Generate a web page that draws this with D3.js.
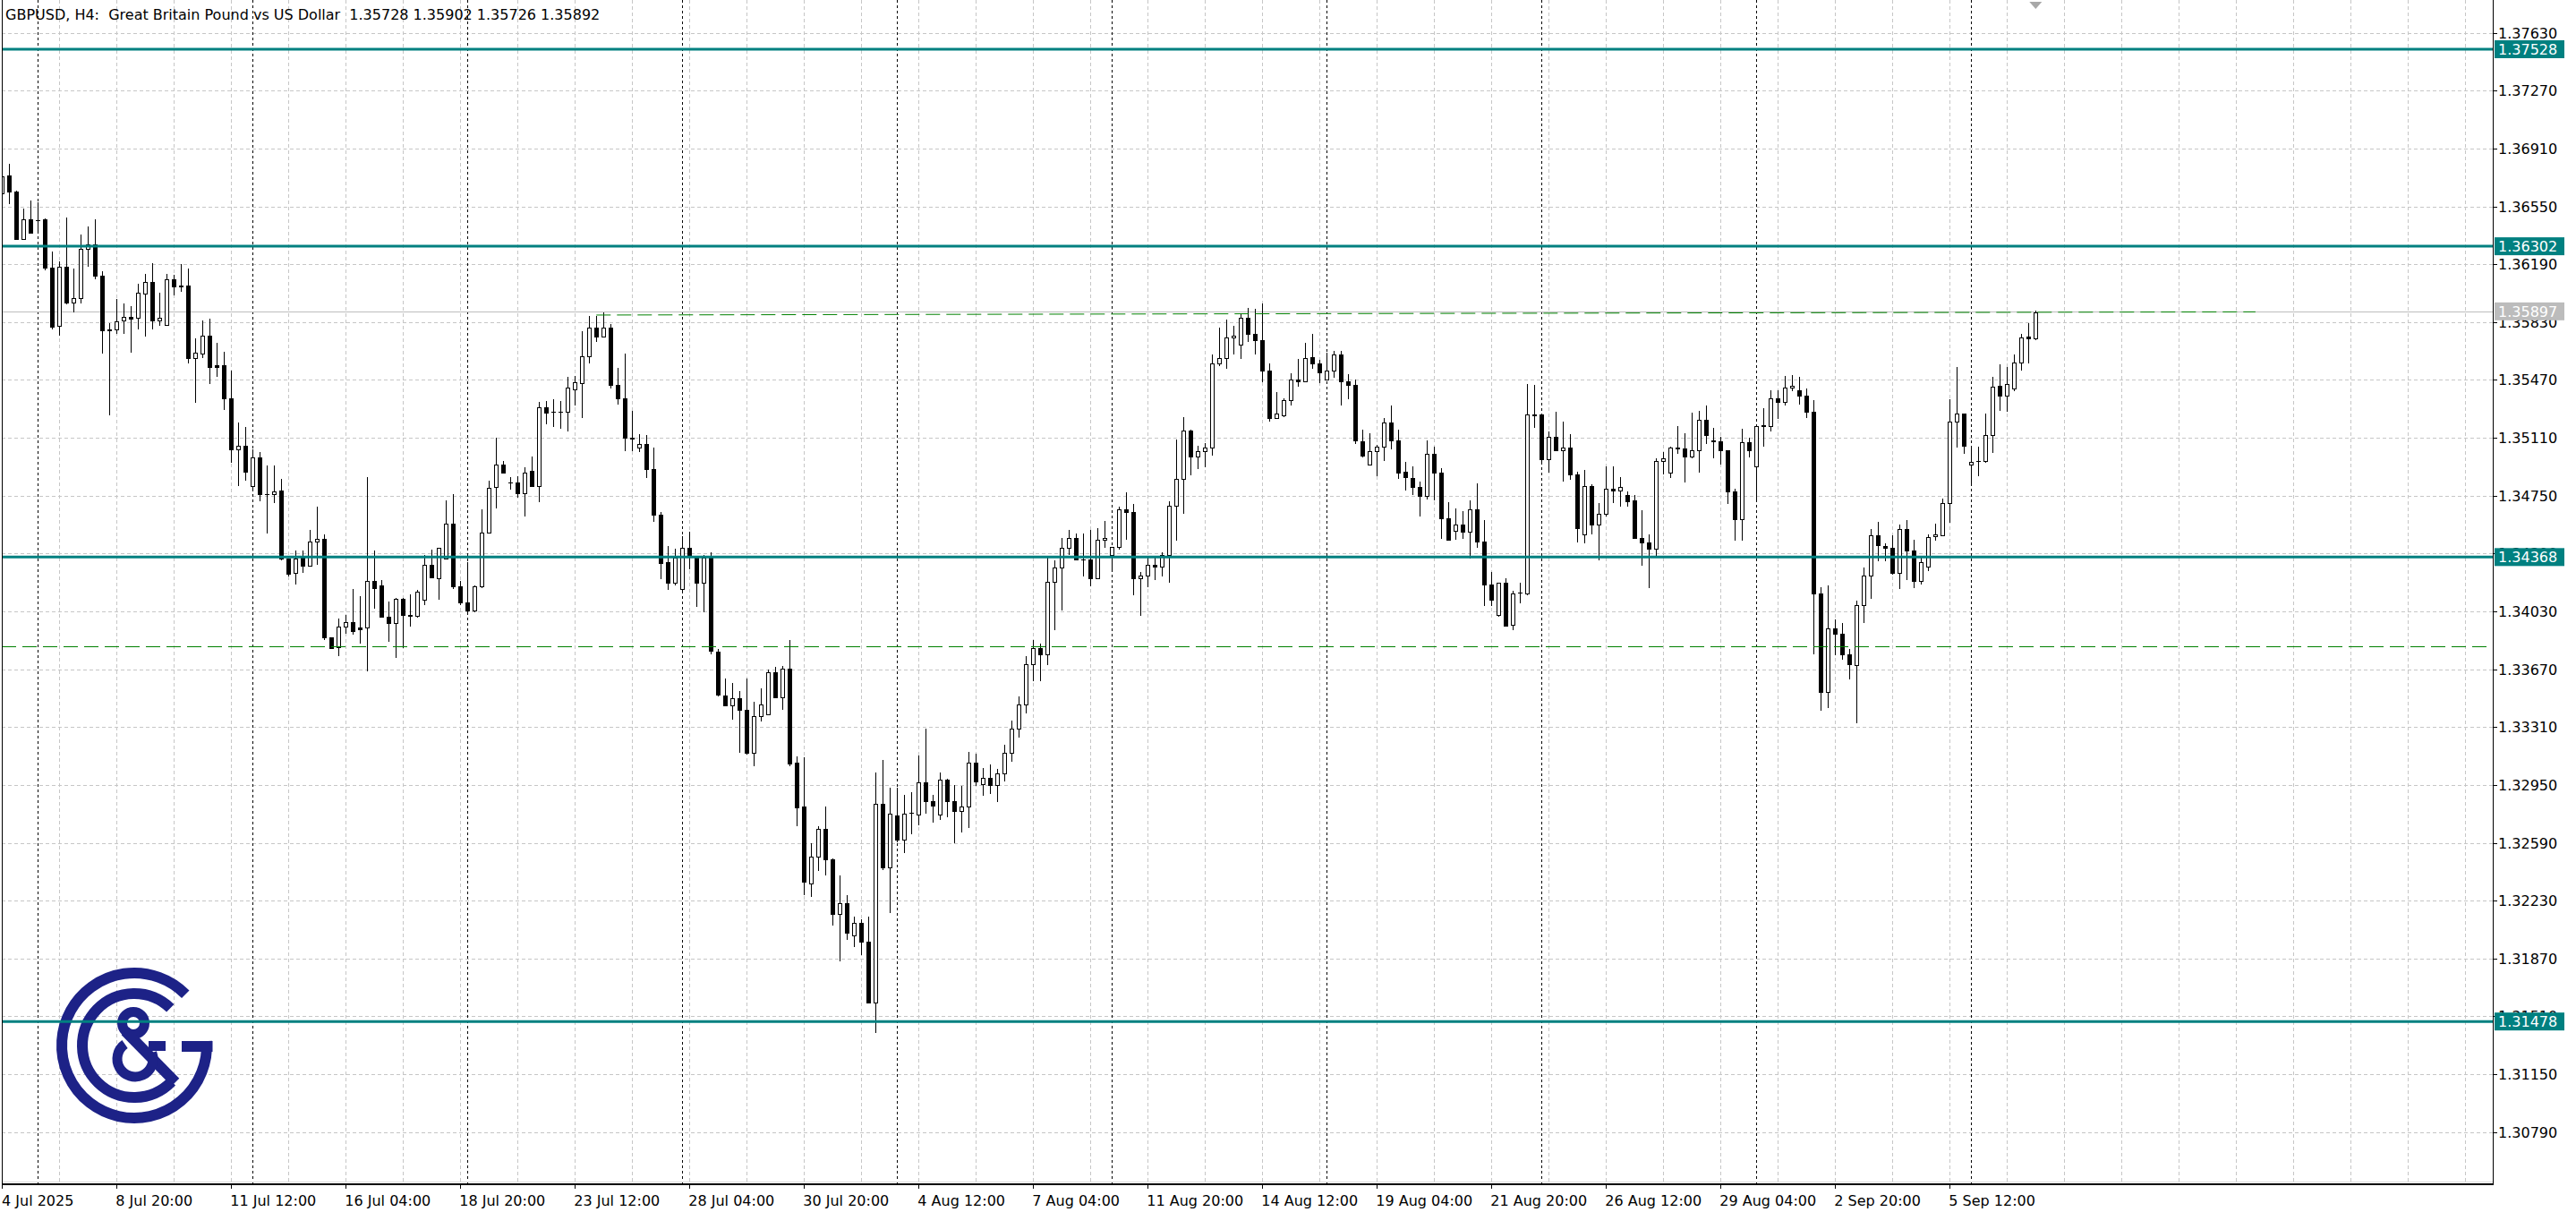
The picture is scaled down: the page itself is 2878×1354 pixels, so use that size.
<!DOCTYPE html>
<html><head><meta charset="utf-8">
<script src="https://cdn.jsdelivr.net/npm/d3@7"></script>
<style>html,body{margin:0;padding:0;background:#fff;overflow:hidden}</style>
</head><body>
<svg id="chart" width="2878" height="1354"></svg>
<script>
// ---------- DATA ----------
const title = "GBPUSD, H4:  Great Britain Pound vs US Dollar  1.35728 1.35902 1.35726 1.35892";
const openP = [
1.36632,1.36742,1.36641,1.36347,1.36472,1.36464,1.36472,1.36170,1.35806,1.36175,
1.35951,1.35979,1.36287,1.36315,1.36119,1.35784,1.35784,1.35840,1.35862,1.35856,
1.36007,1.36080,1.35840,1.35815,1.36097,1.36056,1.36056,1.35606,1.35632,1.35744,
1.35560,1.35560,1.35353,1.35038,1.35062,1.34808,1.34990,1.34759,1.34757,1.34780,
1.34358,1.34270,1.34370,1.34316,1.34467,1.34483,1.33871,1.33806,1.33934,1.33964,
1.33929,1.33929,1.34219,1.34189,1.33996,1.33957,1.34107,1.34010,1.34005,1.34103,
1.34321,1.34235,1.34358,1.34576,1.34184,1.34084,1.34038,1.34184,1.34520,1.34803,
1.34945,1.34834,1.34834,1.34764,1.34903,1.34810,1.35298,1.35274,1.35274,1.35274,
1.35414,1.35453,1.35615,1.35796,1.35738,1.35796,1.35440,1.35355,1.35111,1.35050,
1.35072,1.34913,1.34630,1.34335,1.34207,1.34168,1.34427,1.34366,1.34207,1.34366,
1.33778,1.33508,1.33447,1.33492,1.33416,1.33148,1.33377,1.33392,1.33650,1.33498,
1.33675,1.33088,1.32814,1.32336,1.32503,1.32677,1.32488,1.32150,1.32214,1.32016,
1.32089,1.31977,1.31597,1.32835,1.32439,1.32759,1.32607,1.32777,1.32768,1.32966,
1.32850,1.32768,1.32981,1.32850,1.32789,1.32814,1.33088,1.32957,1.32996,1.32950,
1.33020,1.33150,1.33300,1.33450,1.33700,1.33800,1.33760,1.34214,1.34303,1.34424,
1.34485,1.34355,1.34355,1.34238,1.34476,1.34383,1.34429,1.34665,1.34647,1.34238,
1.34253,1.34318,1.34308,1.34383,1.34689,1.34856,1.35154,1.34994,1.35027,1.35050,
1.35572,1.35607,1.35737,1.35691,1.35858,1.35758,1.35719,1.35529,1.35232,1.35251,
1.35347,1.35473,1.35462,1.35613,1.35572,1.35470,1.35529,1.35626,1.35464,1.35442,
1.35089,1.34944,1.35027,1.35055,1.35204,1.35092,1.34897,1.34860,1.34804,1.34749,
1.35009,1.34894,1.34609,1.34531,1.34568,1.34526,1.34665,1.34466,1.34197,1.34009,
1.34206,1.33944,1.34145,1.34141,1.35256,1.35256,1.34977,1.35115,1.35033,1.35050,
1.34882,1.34511,1.34810,1.34568,1.34637,1.34795,1.34782,1.34754,1.34721,1.34489,
1.34461,1.34420,1.34968,1.34894,1.35050,1.35042,1.34994,1.35033,1.35222,1.35092,
1.35089,1.35033,1.34777,1.34604,1.35083,1.34931,1.35185,1.35185,1.35353,1.35334,
1.35423,1.35405,1.35371,1.35273,1.34141,1.33528,1.33927,1.33890,1.33760,1.33697,
1.34070,1.34251,1.34503,1.34437,1.34424,1.34271,1.34540,1.34410,1.34219,1.34308,
1.34498,1.34503,1.34706,1.35213,1.35260,1.34944,1.34968,1.34968,1.35126,1.35436,
1.35371,1.35418,1.35581,1.35739,1.35728];
const highP = [
1.36760,1.36817,1.36649,1.36537,1.36586,1.36576,1.36475,1.36267,1.36210,1.36481,
1.36166,1.36373,1.36423,1.36468,1.36147,1.35825,1.35976,1.35946,1.35927,1.36067,
1.36132,1.36199,1.36011,1.36129,1.36123,1.36192,1.36166,1.35728,1.35839,1.35853,
1.35700,1.35644,1.35526,1.35204,1.35176,1.35041,1.35023,1.34938,1.34938,1.34857,
1.34358,1.34409,1.34409,1.34537,1.34683,1.34509,1.33871,1.33987,1.34010,1.34172,
1.34126,1.34864,1.34411,1.34226,1.34091,1.34114,1.34114,1.34138,1.34161,1.34381,
1.34416,1.34428,1.34722,1.34759,1.34219,1.34335,1.34189,1.34664,1.34845,1.35112,
1.34966,1.34868,1.34873,1.34926,1.34996,1.35332,1.35337,1.35349,1.35337,1.35490,
1.35495,1.35773,1.35866,1.35866,1.35889,1.35820,1.35543,1.35635,1.35279,1.35133,
1.35127,1.35050,1.34646,1.34436,1.34420,1.34497,1.34524,1.34370,1.34381,1.34396,
1.33797,1.33614,1.33584,1.33535,1.33614,1.33468,1.33553,1.33666,1.33687,1.33690,
1.33854,1.33127,1.33124,1.32586,1.32692,1.32814,1.32494,1.32388,1.32266,1.32129,
1.32114,1.32129,1.33027,1.33103,1.32935,1.32935,1.32890,1.32905,1.33133,1.33301,
1.32890,1.33027,1.32987,1.32951,1.32945,1.33158,1.33142,1.33057,1.33080,1.33050,
1.33200,1.33350,1.33500,1.33750,1.33850,1.33830,1.34368,1.34350,1.34489,1.34539,
1.34517,1.34517,1.34539,1.34548,1.34594,1.34433,1.34680,1.34773,1.34698,1.34275,
1.34364,1.34364,1.34396,1.34717,1.35098,1.35237,1.35161,1.35061,1.35079,1.35627,
1.35798,1.35845,1.35808,1.35882,1.35919,1.35915,1.35947,1.35572,1.35395,1.35358,
1.35514,1.35603,1.35700,1.35756,1.35594,1.35640,1.35653,1.35650,1.35505,1.35473,
1.35161,1.35139,1.35068,1.35232,1.35312,1.35161,1.34959,1.34931,1.34836,1.35092,
1.35055,1.34921,1.34711,1.34671,1.34656,1.34721,1.34827,1.34596,1.34275,1.34206,
1.34238,1.34158,1.34206,1.35445,1.35440,1.35256,1.35148,1.35273,1.35213,1.35135,
1.34901,1.34912,1.34823,1.34702,1.34934,1.34934,1.34864,1.34777,1.34754,1.34661,
1.34507,1.34981,1.35024,1.35055,1.35185,1.35139,1.35269,1.35278,1.35312,1.35170,
1.35115,1.35033,1.34795,1.35167,1.35111,1.35195,1.35293,1.35408,1.35408,1.35497,
1.35501,1.35492,1.35418,1.35343,1.34182,1.34191,1.33978,1.33959,1.33796,1.34095,
1.34303,1.34540,1.34587,1.34451,1.34503,1.34572,1.34600,1.34476,1.34368,1.34511,
1.34578,1.34730,1.35352,1.35553,1.35260,1.35046,1.35055,1.35260,1.35492,1.35566,
1.35553,1.35626,1.35756,1.35826,1.35902];
const lowP = [
1.36620,1.36571,1.36347,1.36345,1.36386,1.36397,1.36160,1.35791,1.35754,1.35944,
1.35894,1.35950,1.36179,1.36101,1.35638,1.35256,1.35765,1.35765,1.35647,1.35793,
1.35744,1.35793,1.35812,1.35810,1.36002,1.36024,1.35577,1.35336,1.35614,1.35452,
1.35493,1.35289,1.34963,1.34814,1.34851,1.34799,1.34720,1.34520,1.34710,1.34355,
1.34254,1.34200,1.34277,1.34312,1.34323,1.33859,1.33801,1.33755,1.33894,1.33889,
1.33836,1.33662,1.34052,1.33994,1.33848,1.33748,1.33806,1.33940,1.33998,1.34075,
1.34242,1.34110,1.34358,1.34177,1.34075,1.34028,1.34028,1.34180,1.34520,1.34676,
1.34892,1.34794,1.34741,1.34625,1.34810,1.34713,1.35198,1.35182,1.35170,1.35158,
1.35316,1.35240,1.35576,1.35715,1.35738,1.35425,1.35324,1.35035,1.35035,1.35029,
1.34868,1.34594,1.34235,1.34168,1.34198,1.34162,1.34299,1.34061,1.34031,1.33766,
1.33505,1.33447,1.33361,1.33155,1.33142,1.33072,1.33352,1.33392,1.33498,1.33422,
1.33072,1.32698,1.32272,1.32257,1.32418,1.32394,1.32083,1.31855,1.31992,1.31947,
1.31895,1.31597,1.31414,1.32424,1.32160,1.32601,1.32531,1.32646,1.32707,1.32777,
1.32722,1.32738,1.32753,1.32595,1.32662,1.32690,1.32951,1.32890,1.32900,1.32850,
1.32980,1.33100,1.33250,1.33400,1.33600,1.33600,1.33700,1.33916,1.34043,1.34386,
1.34355,1.34253,1.34191,1.34236,1.34433,1.34290,1.34418,1.34483,1.34136,1.34009,
1.34188,1.34232,1.34253,1.34214,1.34476,1.34643,1.34884,1.34921,1.34931,1.35005,
1.35562,1.35544,1.35637,1.35607,1.35711,1.35637,1.35464,1.35217,1.35232,1.35245,
1.35315,1.35432,1.35462,1.35544,1.35455,1.35470,1.35492,1.35315,1.35356,1.35077,
1.34995,1.34944,1.34875,1.34972,1.35042,1.34860,1.34786,1.34758,1.34624,1.34730,
1.34726,1.34485,1.34476,1.34480,1.34489,1.34364,1.34433,1.34067,1.34067,1.34005,
1.33941,1.33918,1.34085,1.34136,1.35176,1.34959,1.34901,1.35033,1.34842,1.34856,
1.34466,1.34457,1.34513,1.34355,1.34624,1.34708,1.34689,1.34689,1.34485,1.34318,
1.34178,1.34383,1.34888,1.34866,1.35014,1.34838,1.34990,1.34897,1.35079,1.34990,
1.34949,1.34702,1.34474,1.34474,1.34996,1.34721,1.35061,1.35157,1.35232,1.35315,
1.35405,1.35325,1.35237,1.33770,1.33417,1.33435,1.33760,1.33736,1.33615,1.33342,
1.33963,1.34111,1.34349,1.34349,1.34266,1.34173,1.34228,1.34182,1.34200,1.34284,
1.34474,1.34503,1.34585,1.35055,1.35014,1.34828,1.34879,1.34959,1.35024,1.35284,
1.35278,1.35408,1.35533,1.35581,1.35726];
const closeP = [
1.36735,1.36640,1.36347,1.36472,1.36388,1.36462,1.36170,1.35802,1.36175,1.35950,
1.35979,1.36287,1.36315,1.36119,1.35778,1.35778,1.35834,1.35862,1.35851,1.36015,
1.36080,1.35838,1.35856,1.36097,1.36052,1.36050,1.35605,1.35638,1.35744,1.35549,
1.35549,1.35353,1.35038,1.35062,1.34898,1.34990,1.34758,1.34757,1.34776,1.34358,
1.34265,1.34358,1.34312,1.34467,1.34483,1.33871,1.33801,1.33934,1.33964,1.33906,
1.33917,1.34219,1.34177,1.33994,1.33957,1.34107,1.34010,1.34005,1.34154,1.34321,
1.34242,1.34428,1.34576,1.34184,1.34086,1.34033,1.34184,1.34520,1.34799,1.34945,
1.34896,1.34834,1.34764,1.34896,1.34810,1.35302,1.35267,1.35274,1.35272,1.35421,
1.35455,1.35615,1.35796,1.35738,1.35796,1.35437,1.35355,1.35111,1.35105,1.35072,
1.34913,1.34630,1.34329,1.34207,1.34366,1.34427,1.34375,1.34207,1.34366,1.33787,
1.33514,1.33447,1.33492,1.33416,1.33148,1.33377,1.33453,1.33650,1.33498,1.33675,
1.33082,1.32808,1.32348,1.32503,1.32677,1.32488,1.32150,1.32214,1.32032,1.32089,
1.31977,1.31597,1.32835,1.32439,1.32774,1.32607,1.32774,1.32777,1.32966,1.32850,
1.32823,1.32981,1.32850,1.32789,1.32814,1.33088,1.32972,1.32996,1.32950,1.33020,
1.33150,1.33300,1.33450,1.33700,1.33800,1.33760,1.34214,1.34303,1.34424,1.34485,
1.34355,1.34352,1.34238,1.34476,1.34485,1.34429,1.34665,1.34647,1.34238,1.34253,
1.34318,1.34308,1.34383,1.34689,1.34856,1.35154,1.34994,1.35027,1.35050,1.35572,
1.35607,1.35737,1.35748,1.35858,1.35758,1.35719,1.35529,1.35232,1.35260,1.35347,
1.35473,1.35462,1.35607,1.35572,1.35516,1.35529,1.35627,1.35460,1.35440,1.35092,
1.34999,1.35027,1.35055,1.35204,1.35092,1.34894,1.34866,1.34804,1.34749,1.35009,
1.34894,1.34609,1.34476,1.34568,1.34526,1.34665,1.34466,1.34197,1.34102,1.34206,
1.33941,1.34141,1.34145,1.35256,1.35250,1.34977,1.35115,1.35033,1.35050,1.34882,
1.34548,1.34810,1.34568,1.34637,1.34795,1.34782,1.34804,1.34715,1.34485,1.34457,
1.34420,1.34968,1.34981,1.35050,1.35042,1.34994,1.35033,1.35222,1.35130,1.35088,
1.35033,1.34777,1.34604,1.35083,1.35033,1.35185,1.35188,1.35356,1.35334,1.35423,
1.35432,1.35375,1.35274,1.34141,1.33528,1.33927,1.33890,1.33760,1.33699,1.34070,
1.34251,1.34503,1.34442,1.34424,1.34271,1.34540,1.34410,1.34219,1.34336,1.34492,
1.34511,1.34706,1.35213,1.35260,1.35061,1.34959,1.34968,1.35126,1.35427,1.35371,
1.35445,1.35581,1.35737,1.35730,1.35892];

const timeLabels = ["4 Jul 2025","8 Jul 20:00","11 Jul 12:00","16 Jul 04:00","18 Jul 20:00","23 Jul 12:00",
  "28 Jul 04:00","30 Jul 20:00","4 Aug 12:00","7 Aug 04:00","11 Aug 20:00","14 Aug 12:00",
  "19 Aug 04:00","21 Aug 20:00","26 Aug 12:00","29 Aug 04:00","2 Sep 20:00","5 Sep 12:00"];
const timeLabelBars = [0,16,32,48,64,80,96,112,128,144,160,176,192,208,224,240,256,272];
const weekStartBars = [5,35,65,95,125,155,185,215,245,275];
const priceTicks = [1.37630,1.37270,1.36910,1.36550,1.36190,1.35830,1.35470,1.35110,1.34750,1.34390,
  1.34030,1.33670,1.33310,1.32950,1.32590,1.32230,1.31870,1.31510,1.31150,1.30790];
const levelLines = [1.37528,1.36302,1.34368,1.31478];
const supportDash = 1.33812;
const resistTrend = {fromBar:83, fromPrice:1.35874, toBar:314.7, toPrice:1.35894};
const bidPrice = 1.35897;

// ---------- LAYOUT ----------
const W = 2878, H = 1354;
const plotL = 2, plotR = 2785, plotT = 0, plotB = 1322;
const svg = d3.select("#chart");
const x = d3.scaleLinear().domain([0, 1]).range([2.3, 10.3]);
const y = d3.scaleLinear().domain([1.3079, 1.3763]).range([1264.7, 36.7]);
const FONT = "'DejaVu Sans', Verdana, sans-serif";
const teal = "#008080";
const snap = v => Math.round(v) + 0.5;

svg.append("rect").attr("width", W).attr("height", H).attr("fill", "#fff");
svg.append("defs").append("clipPath").attr("id","plotclip")
  .append("rect").attr("x", plotL+1).attr("y", plotT).attr("width", plotR-plotL-1).attr("height", plotB-plotT);

const plot = svg.append("g").attr("clip-path","url(#plotclip)");

// grid
const grid = plot.append("g").attr("stroke","#c6c6c6").attr("stroke-width",1).attr("stroke-dasharray","4,3").attr("shape-rendering","crispEdges");
grid.selectAll("line.h").data(priceTicks).join("line")
  .attr("x1", plotL).attr("x2", plotR).attr("y1", d => snap(y(d))).attr("y2", d => snap(y(d)));
const vBars = d3.range(8, 360, 8).filter(i => x(i) < plotR);
grid.selectAll("line.v").data(vBars).join("line")
  .attr("x1", d => snap(x(d))).attr("x2", d => snap(x(d))).attr("y1", plotT).attr("y2", plotB);

// week separators
plot.append("g").attr("stroke","#000").attr("stroke-width",1).attr("stroke-dasharray","3,3").attr("shape-rendering","crispEdges")
  .selectAll("line").data(weekStartBars).join("line")
  .attr("x1", d => snap(x(d))).attr("x2", d => snap(x(d))).attr("y1", plotT).attr("y2", plotB);

// bid line
plot.append("line").attr("x1", plotL).attr("x2", plotR)
  .attr("y1", snap(y(bidPrice))).attr("y2", snap(y(bidPrice)))
  .attr("stroke","#bdbdbd").attr("stroke-width",1).attr("shape-rendering","crispEdges");

// logo
const logo = plot.append("g");
const LC = "#1d2287";
const lcx = 150, lcy = 1168;
function arcD(cx, cy, r, a0, a1, large, sweep) {
  const p0 = [cx + r*Math.cos(a0*Math.PI/180), cy + r*Math.sin(a0*Math.PI/180)];
  const p1 = [cx + r*Math.cos(a1*Math.PI/180), cy + r*Math.sin(a1*Math.PI/180)];
  return `M${p0[0]},${p0[1]} A${r},${r} 0 ${large} ${sweep} ${p1[0]},${p1[1]}`;
}
logo.append("path").attr("d", arcD(lcx, lcy, 81, -45, -3.5, 1, 0)).attr("fill","none").attr("stroke",LC).attr("stroke-width",12);
logo.append("rect").attr("x",203).attr("y",1163).attr("width",34.5).attr("height",12).attr("fill",LC);
logo.append("path").attr("d", arcD(lcx, lcy, 58, -46, 44, 1, 0)).attr("fill","none").attr("stroke",LC).attr("stroke-width",12);
// ampersand
logo.append("circle").attr("cx",149).attr("cy",1143).attr("r",12.5).attr("fill","none").attr("stroke",LC).attr("stroke-width",11);
logo.append("line").attr("x1",140).attr("y1",1152).attr("x2",196).attr("y2",1209).attr("stroke",LC).attr("stroke-width",12);
logo.append("path").attr("d", arcD(151, 1183, 20, -125, -20, 1, 0)).attr("fill","none").attr("stroke",LC).attr("stroke-width",11);
logo.append("rect").attr("x",166).attr("y",1163).attr("width",19).attr("height",11).attr("fill",LC);

// candles
const candles = plot.append("g").attr("shape-rendering","crispEdges");
d3.range(openP.length).forEach(i => {
  const o = openP[i], h = highP[i], l = lowP[i], c = closeP[i];
  const cx = snap(x(i));
  candles.append("line").attr("x1",cx).attr("x2",cx)
    .attr("y1", Math.round(y(h))).attr("y2", Math.round(y(l)) + 1)
    .attr("stroke","#000").attr("stroke-width",1);
  const yt = snap(y(Math.max(o,c))), yb = snap(y(Math.min(o,c)));
  if (yb - yt < 1) {
    candles.append("line").attr("x1", cx-2.5).attr("x2", cx+2.5).attr("y1", yt).attr("y2", yt)
      .attr("stroke","#000").attr("stroke-width",1);
  } else {
    candles.append("rect").attr("x", cx-2).attr("y", yt).attr("width", 4).attr("height", yb-yt)
      .attr("fill", c >= o ? "#fff" : "#000").attr("stroke","#000").attr("stroke-width",1);
  }
});

// horizontal levels
plot.append("g").selectAll("line").data(levelLines).join("line")
  .attr("x1", plotL).attr("x2", plotR).attr("y1", d => y(d)).attr("y2", d => y(d))
  .attr("stroke", teal).attr("stroke-width", 3);
plot.append("line").attr("x1", plotL).attr("x2", plotR)
  .attr("y1", snap(y(supportDash))).attr("y2", snap(y(supportDash)))
  .attr("stroke","#008000").attr("stroke-width",1).attr("stroke-dasharray","16,7");
plot.append("line").attr("x1", x(resistTrend.fromBar)).attr("x2", x(resistTrend.toBar))
  .attr("y1", y(resistTrend.fromPrice)).attr("y2", y(resistTrend.toPrice))
  .attr("stroke","#008000").attr("stroke-width",1).attr("stroke-dasharray","16,7");

// shift marker
const lastX = x(openP.length - 1);
svg.append("path").attr("d", `M${lastX-7},2 L${lastX+7},2 L${lastX},10 Z`).attr("fill","#a8a8a8");

// frame
const frame = svg.append("g").attr("stroke","#000").attr("stroke-width",1).attr("shape-rendering","crispEdges");
frame.append("line").attr("x1", plotL+0.5).attr("x2", plotL+0.5).attr("y1", 0).attr("y2", plotB+1);
frame.append("line").attr("x1", plotR+0.5).attr("x2", plotR+0.5).attr("y1", 0).attr("y2", plotB+1);
frame.append("line").attr("x1", plotL).attr("x2", plotR+1).attr("y1", plotB+0.5).attr("y2", plotB+0.5).attr("stroke-width",2);
svg.append("line").attr("x1", plotL+1).attr("x2", plotR).attr("y1", plotB-1.5).attr("y2", plotB-1.5).attr("stroke","#d8d8d8");

// right price axis
const ra = svg.append("g").attr("font-family", FONT).attr("font-size", 16).attr("fill","#000");
priceTicks.forEach(p => {
  const yy = snap(y(p));
  ra.append("line").attr("x1", plotR).attr("x2", plotR+5).attr("y1", yy).attr("y2", yy).attr("stroke","#000").attr("shape-rendering","crispEdges");
  ra.append("text").attr("x", plotR+6).attr("y", y(p)+6).text(p.toFixed(5));
});
levelLines.forEach(p => {
  ra.append("rect").attr("x", plotR+2).attr("y", y(p)-10).attr("width", 78).attr("height", 20).attr("fill", teal);
  ra.append("text").attr("x", plotR+6).attr("y", y(p)+6).attr("fill","#fff").text(p.toFixed(5));
});
ra.append("rect").attr("x", plotR+2).attr("y", y(bidPrice)-10).attr("width", 78).attr("height", 20).attr("fill", "#bcbcbc");
ra.append("text").attr("x", plotR+6).attr("y", y(bidPrice)+6).attr("fill","#fff").text(bidPrice.toFixed(5));

// bottom time axis
const ba = svg.append("g").attr("font-family", FONT).attr("font-size", 16).attr("fill","#000");
timeLabelBars.forEach((b, k) => {
  const xx = snap(x(b));
  ba.append("line").attr("x1", xx).attr("x2", xx).attr("y1", plotB+1).attr("y2", plotB+6).attr("stroke","#000").attr("shape-rendering","crispEdges");
  ba.append("text").attr("x", Math.max(x(b) - 1, 2)).attr("y", 1347).text(timeLabels[k]);
});

// title
svg.append("text").attr("x", 6).attr("y", 22).attr("font-family", FONT).attr("font-size", 16)
  .attr("fill","#000").style("white-space","pre").text(title);
</script>
</body></html>
